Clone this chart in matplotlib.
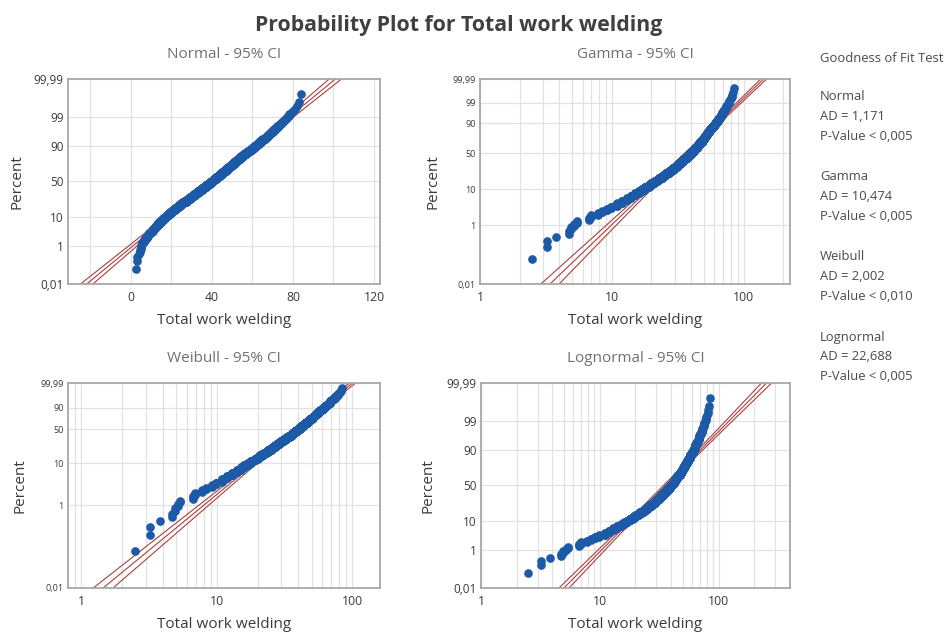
import numpy as np
import matplotlib
matplotlib.use('Agg')
import matplotlib.pyplot as plt
from matplotlib.ticker import LogLocator, NullFormatter, NullLocator, FixedLocator
from statistics import NormalDist
from math import lgamma, log

plt.rcParams['font.family'] = ['Open Sans', 'DejaVu Sans']

low_values = [2.5, 3.2, 3.8, 4.7, 4.9, 5.2, 5.4, 6.7, 6.9, 7.8, 8.4, 9.2, 9.8]
low_counts = [1, 2, 1, 2, 2, 2, 2, 3, 3, 3, 3, 4, 4]
bulk_values = list(range(11, 85))
bulk_counts = [7, 7, 8, 9, 9, 10, 10, 11, 11, 11, 12, 13, 13, 14, 15,
               15, 16, 16, 17, 17, 17, 18, 18, 18, 19, 19, 20, 20, 20, 21,
               21, 21, 21, 21, 20, 20, 20, 20, 19, 19, 18, 17, 16, 15, 15,
               12, 11, 10, 10, 10, 10, 9, 9, 9, 8, 7, 6, 6, 5, 5,
               4, 3, 3, 3, 2, 2, 2, 2, 1, 1, 1, 1, 1, 1]

# fitted parameters
norm_mu, norm_sigma = 39.6, 16.5
gamma_shape, gamma_scale = 4.9, 8.08
weib_shape, weib_scale = 2.7, 44.0
logn_mu, logn_sigma = 3.573, 0.528

# goodness of fit box
gof_names = ['Normal', 'Gamma', 'Weibull', 'Lognormal']
gof_ad = ['1,171', '10,474', '2,002', '22,688']
gof_p = ['< 0,005', '< 0,005', '< 0,010', '< 0,005']

pct_ticks = [0.01, 1, 10, 50, 90, 99, 99.99]
pct_labels = ['0,01', '1', '10', '50', '90', '99', '99,99']
weib_ticks = [0.01, 1, 10, 50, 90, 99.99]
weib_labels = ['0,01', '1', '10', '50', '90', '99,99']

values = np.repeat(low_values + bulk_values, low_counts + bulk_counts).astype(float)
values = np.sort(values)
n = len(values)
ranks = (np.arange(1, n + 1) - 0.3) / (n + 0.4) * 100  # median ranks

### probability scales ###
_nd = NormalDist()
_ppf = np.vectorize(_nd.inv_cdf, otypes=[float])
_cdf = np.vectorize(_nd.cdf, otypes=[float])

def norm_fwd(p):
  p = np.clip(np.asarray(p, dtype=float) / 100, 1e-12, 1 - 1e-12)
  return _ppf(p)

def norm_inv(z):
  return 100 * _cdf(np.asarray(z, dtype=float))

def weib_fwd(p):
  p = np.clip(np.asarray(p, dtype=float) / 100, 1e-12, 1 - 1e-12)
  return np.log(-np.log(1 - p))

def weib_inv(w):
  return 100 * (1 - np.exp(-np.exp(np.asarray(w, dtype=float))))

def gamma_cdf(x, k):
  x = np.asarray(x, dtype=float)
  out = np.ones_like(x)
  out[x <= 0] = 0
  m = (x > 0) & (x < 120)
  xp = x[m]
  term = np.exp(k * np.log(xp) - xp - lgamma(k + 1))
  total = term.copy()
  for j in range(1, 220):
    term = term * xp / (k + j)
    total += term
  out[m] = np.minimum(total, 1.0)
  return out

def gamma_log10q(p, k):
  p = np.asarray(p, dtype=float)
  lo = np.full(p.shape, -6.0)
  hi = np.full(p.shape, 2.0)
  for _ in range(42):
    mid = (lo + hi) / 2
    below = gamma_cdf(10 ** mid, k) < p
    lo = np.where(below, mid, lo)
    hi = np.where(below, hi, mid)
  return (lo + hi) / 2

def gamma_fwd(p):
  p = np.clip(np.asarray(p, dtype=float) / 100, 1e-12, 1 - 1e-12)
  shp = p.shape
  return gamma_log10q(p.ravel(), gamma_shape).reshape(shp)

def gamma_inv(y):
  y = np.asarray(y, dtype=float)
  shp = y.shape
  return 100 * gamma_cdf(10 ** y.ravel(), gamma_shape).reshape(shp)

def trigamma(x):
  s = 0.0
  while x < 6:
    s += 1 / x ** 2
    x += 1
  return s + 1 / x + 1 / (2 * x ** 2) + 1 / (6 * x ** 3) - 1 / (30 * x ** 5)

### fitted lines + 95% CI ###
z_grid = np.linspace(-4.6, 4.6, 161)
pct_grid = norm_inv(z_grid)

def fit_normal():
  half = 1.96 * norm_sigma * np.sqrt(1 / n + z_grid ** 2 / (2 * n))
  xf = norm_mu + norm_sigma * z_grid
  return pct_grid, xf, xf - half, xf + half

def fit_lognormal():
  half = 1.96 * logn_sigma * np.sqrt(1 / n + z_grid ** 2 / (2 * n))
  lf = logn_mu + logn_sigma * z_grid
  return pct_grid, np.exp(lf), np.exp(lf - half), np.exp(lf + half)

def fit_weibull():
  w = np.linspace(-10.5, 3.0, 161)
  b = 1 / weib_shape
  var = b ** 2 / n * (1.1087 + 2 * 0.2570 * w + 0.6079 * w ** 2)
  lf = np.log(weib_scale) + w * b
  half = 1.96 * np.sqrt(var)
  return weib_inv(w), np.exp(lf), np.exp(lf - half), np.exp(lf + half)

def fit_gamma():
  p = pct_grid / 100
  k = gamma_shape
  h = 0.01
  lq = gamma_log10q(p, k) * log(10)
  g = (gamma_log10q(p, k + h) - gamma_log10q(p, k - h)) * log(10) / (2 * h)
  t1 = trigamma(k)
  d = n * (k * t1 - 1)
  var = t1 / d + g ** 2 * k / d - 2 * g / d
  lf = np.log(gamma_scale) + lq
  half = 1.96 * np.sqrt(var)
  return pct_grid, np.exp(lf), np.exp(lf - half), np.exp(lf + half)

### figure ###
fig = plt.figure(figsize=(9.48, 6.35), dpi=100)
W, H = 948, 635

def make_axes(l, t, r, b):
  return fig.add_axes([l / W, 1 - b / H, (r - l) / W, (b - t) / H])

dark = '#3a3a3a'
grey_title = '#707070'
dot_col = '#1c59a6'
line_col = '#a8403f'

panels = [
  dict(box=(68, 79, 380, 284), title='Normal - 95% CI', fwd=norm_fwd, inv=norm_inv,
       fit=fit_normal, xlog=False, xlim=(-31, 123), yt=pct_ticks, yl=pct_labels, ys=8.5, ylab_off=51),
  dict(box=(480, 79, 790, 284), title='Gamma - 95% CI', fwd=gamma_fwd, inv=gamma_inv,
       fit=fit_gamma, xlog=True, xlim=(1, 225), yt=pct_ticks, yl=pct_labels, ys=6.5, ylab_off=47),
  dict(box=(68, 383, 380, 588), title='Weibull - 95% CI', fwd=weib_fwd, inv=weib_inv,
       fit=fit_weibull, xlog=True, xlim=(0.8, 160), yt=weib_ticks, yl=weib_labels, ys=6.5, ylab_off=48),
  dict(box=(481, 383, 790, 588), title='Lognormal - 95% CI', fwd=norm_fwd, inv=norm_inv,
       fit=fit_lognormal, xlog=True, xlim=(1, 400), yt=pct_ticks, yl=pct_labels, ys=8.5, ylab_off=53),
]

for pn in panels:
  l, t, r, b = pn['box']
  ax = make_axes(l, t, r, b)
  ax.set_yscale('function', functions=(pn['fwd'], pn['inv']))
  ax.set_ylim(0.01, 99.99)
  ax.set_yticks(pn['yt'])
  ax.set_yticklabels(pn['yl'])
  ax.yaxis.set_minor_locator(NullLocator())
  if pn['xlog']:
    ax.set_xscale('log')
    ax.set_xlim(*pn['xlim'])
    ax.set_xticks([1, 10, 100])
    ax.set_xticklabels(['1', '10', '100'])
    ax.xaxis.set_minor_locator(LogLocator(base=10, subs=np.arange(2, 10)))
    ax.xaxis.set_minor_formatter(NullFormatter())
  else:
    ax.set_xlim(*pn['xlim'])
    ax.set_xticks([0, 40, 80, 120])
    ax.xaxis.set_minor_locator(FixedLocator([-20, 20, 60, 100]))
  ax.set_xlim(*pn['xlim'])

  ax.grid(True, which='both', color='#e2e2e2', lw=0.9)
  ax.set_axisbelow(True)
  ax.tick_params(which='both', length=0, colors=dark)
  ax.tick_params(axis='y', labelsize=pn['ys'], pad=3)
  ax.tick_params(axis='x', labelsize=8.8, pad=5)
  for s in ax.spines.values():
    s.set_color('#a8a8a8')
    s.set_linewidth(1.3)

  pg, xf, xlo, xhi = pn['fit']()
  for xx in (xlo, xf, xhi):
    ax.plot(xx, pg, color=line_col, lw=0.8, zorder=2)
  ax.plot(values, ranks, 'o', ms=5.2, color=dot_col, mec=dot_col, zorder=3)

  hpx = b - t
  ax.text(0.5, 1 + 24 / hpx, pn['title'], transform=ax.transAxes, ha='center', va='center',
          fontsize=11, color=grey_title)
  ax.text(0.5, -36 / hpx, 'Total work welding', transform=ax.transAxes, ha='center', va='center',
          fontsize=11, color=dark)
  ax.text(-pn['ylab_off'] / (r - l), 0.5, 'Percent', transform=ax.transAxes, ha='center', va='center',
          rotation=90, fontsize=11, color=dark)

fig.text(459 / W, 1 - 26 / H, 'Probability Plot for Total work welding', ha='center', va='center',
         fontsize=15.3, fontweight='bold', color='#404040')

gof_size = 9.4
fig.text(820 / W, 1 - 58 / H, 'Goodness of Fit Test', ha='left', va='center', fontsize=gof_size, color='#4a4a4a')
for i, name in enumerate(gof_names):
  y0 = 97 + i * 80
  fig.text(820 / W, 1 - y0 / H, name, ha='left', va='center', fontsize=gof_size, color='#4a4a4a')
  fig.text(820 / W, 1 - (y0 + 20) / H, 'AD = ' + gof_ad[i], ha='left', va='center', fontsize=gof_size, color='#4a4a4a')
  fig.text(820 / W, 1 - (y0 + 40) / H, 'P-Value ' + gof_p[i], ha='left', va='center', fontsize=gof_size, color='#4a4a4a')

fig.savefig('out.png', dpi=100, facecolor='white')
